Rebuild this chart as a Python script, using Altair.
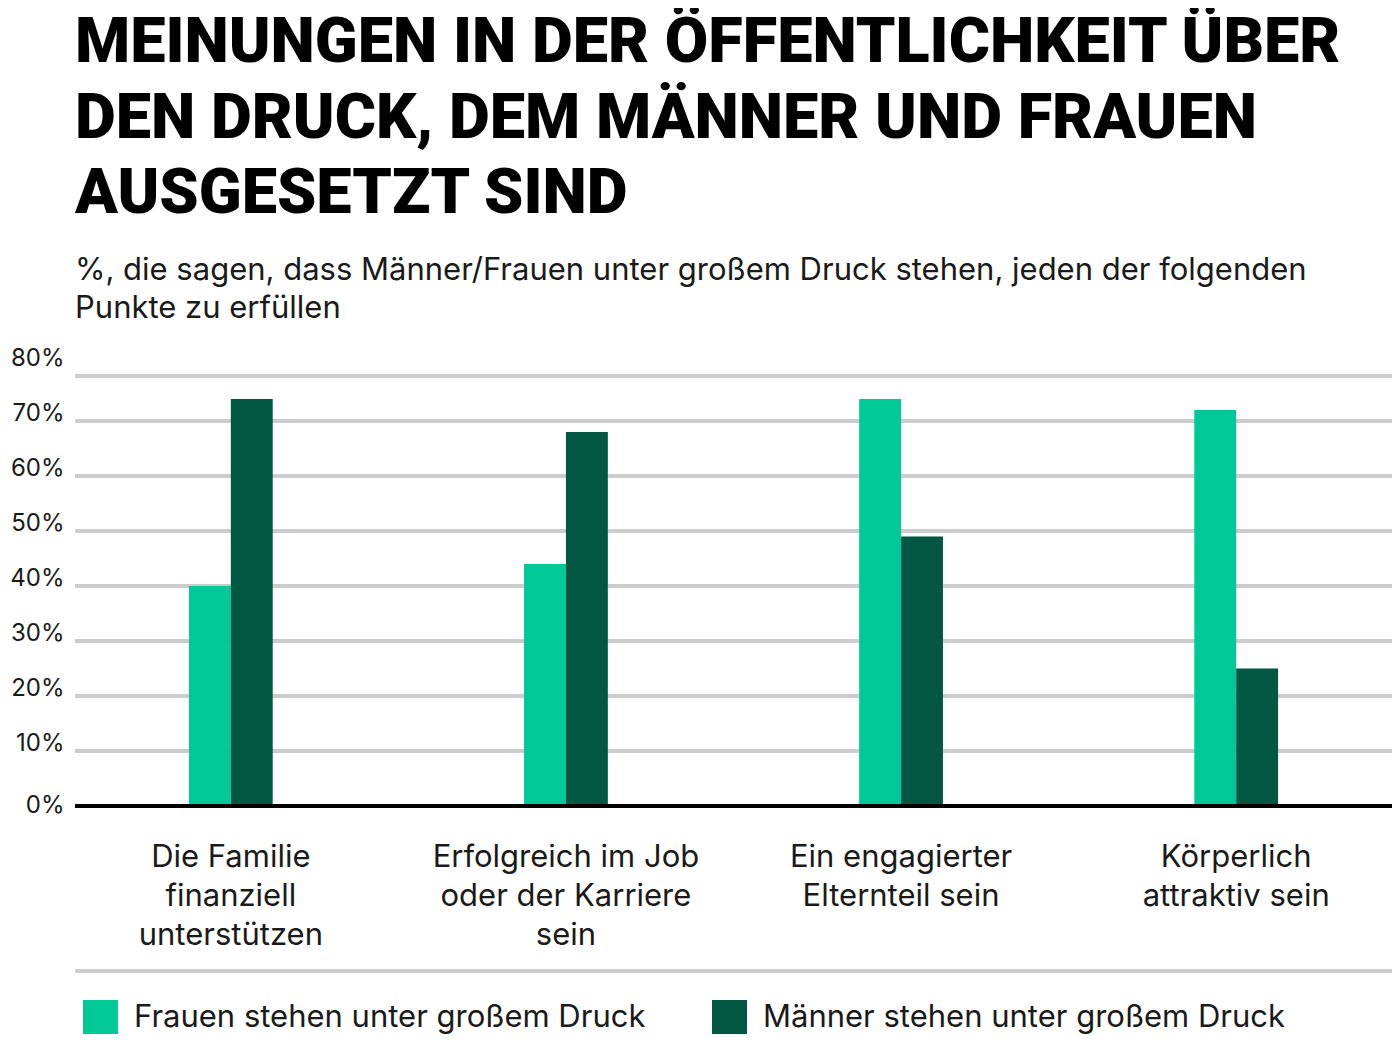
import altair as alt
import pandas as pd

categories = [
    "Die Familie\nfinanziell\nunterstützen",
    "Erfolgreich im Job\noder der Karriere\nsein",
    "Ein engagierter\nElternteil sein",
    "Körperlich\nattraktiv sein",
]
series = ["Frauen stehen unter großem Druck", "Männer stehen unter großem Druck"]
frauen = [40, 44, 74, 72]
maenner = [74, 68, 49, 25]
y_ticks = [0, 10, 20, 30, 40, 50, 60, 70, 80]
grid_ticks = [10, 20, 30, 40, 50, 60, 70]
colors = ["#00C896", "#025743"]

title_lines = [
    "MEINUNGEN IN DER ÖFFENTLICHKEIT ÜBER",
    "DEN DRUCK, DEM MÄNNER UND FRAUEN",
    "AUSGESETZT SIND",
]
subtitle_lines = [
    "%, die sagen, dass Männer/Frauen unter großem Druck stehen, jeden der folgenden",
    "Punkte zu erfüllen",
]

rows = []
for c, f, m in zip(categories, frauen, maenner):
    rows.append({"cat": c, "series": series[0], "value": f})
    rows.append({"cat": c, "series": series[1], "value": m})
df = pd.DataFrame(rows)
grid_df = pd.DataFrame({"v": grid_ticks})

W, H = 1317, 440
FONT = "Inter"

yscale = alt.Scale(domain=[0, 80], nice=False, zero=True)
y_axis = alt.Axis(
    title=None,
    values=y_ticks,
    labelExpr="datum.value + '%'",
    grid=False,
    domain=False,
    ticks=False,
    labelFont=FONT,
    labelFontSize=24,
    labelColor="#1a1a1a",
    labelPadding=11,
    labelBaseline={"condition": {"test": "datum.value == 0", "value": "middle"}, "value": "alphabetic"},
    labelOffset=-1,
)

bars = alt.Chart(df).mark_bar().encode(
    x=alt.X(
        "cat:N",
        sort=categories,
        scale=alt.Scale(paddingInner=0.75, paddingOuter=0.34),
        axis=alt.Axis(
            title=None,
            labelExpr="split(datum.label, '\\n')",
            labelFont=FONT,
            labelFontSize=31,
            labelLineHeight=39,
            labelPadding=36,
            labelColor="#1a1a1a",
            labelAngle=0,
            labelLimit=0,
            domain=False,
            ticks=False,
        ),
    ),
    xOffset=alt.XOffset("series:N", sort=series, scale=alt.Scale(paddingInner=0, paddingOuter=0)),
    y=alt.Y("value:Q", scale=yscale, axis=y_axis),
    color=alt.Color(
        "series:N",
        sort=series,
        scale=alt.Scale(domain=series, range=colors),
        legend=alt.Legend(
            title=None,
            orient="none",
            legendX=8,
            legendY=634,
            direction="horizontal",
            symbolType="square",
            symbolSize=1225,
            symbolStrokeWidth=0,
            symbolOpacity=1,
            labelFont=FONT,
            labelFontSize=31,
            labelColor="#1a1a1a",
            labelOffset=16,
            columnPadding=66,
            labelLimit=0,
        ),
    ),
)

grid = alt.Chart(grid_df).mark_rule(color="#cccccc", strokeWidth=4).encode(
    y=alt.Y("v:Q", scale=yscale, axis=y_axis)
)

top_line = alt.Chart(grid_df).mark_rule(color="#cccccc", strokeWidth=4).encode(
    x=alt.value(0), x2=alt.value(W), y=alt.value(10)
)

baseline = alt.Chart(grid_df).mark_rule(color="#000000", strokeWidth=4).encode(
    y=alt.datum(0)
)

separator = alt.Chart(grid_df).mark_rule(color="#cccccc", strokeWidth=4).encode(
    x=alt.value(0), x2=alt.value(W), y=alt.value(605)
)

chart = alt.layer(grid, top_line, bars, baseline, separator).properties(
    width=W,
    height=H,
    title=alt.TitleParams(
        text=title_lines,
        subtitle=subtitle_lines,
        anchor="start",
        frame="group",
        font="Roboto",
        fontWeight=900,
        fontSize=63,
        lineHeight=75.5,
        color="#000000",
        subtitleFont=FONT,
        subtitleFontSize=31,
        subtitleLineHeight=38,
        subtitleColor="#1a1a1a",
        subtitlePadding=30,
        offset=22,
    ),
    autosize=alt.AutoSizeParams(type="none"),
    padding={"left": 67, "top": 358, "right": 0, "bottom": 228},
).configure_view(stroke=None)

chart.save("out.html", embed_options={"renderer": "svg", "actions": False})
